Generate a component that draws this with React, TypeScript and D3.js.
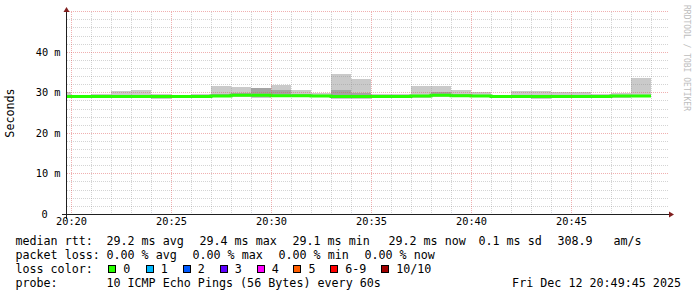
import React from 'react';
import * as d3 from 'd3';

// ---- data ----
const minutes = [
  '20:19', '20:20', '20:21', '20:22', '20:23', '20:24', '20:25', '20:26', '20:27', '20:28',
  '20:29', '20:30', '20:31', '20:32', '20:33', '20:34', '20:35', '20:36', '20:37', '20:38',
  '20:39', '20:40', '20:41', '20:42', '20:43', '20:44', '20:45', '20:46', '20:47', '20:48',
];
const medianMs = [
  29.1, 29.1, 29.1, 29.1, 29.1, 29.1, 29.1, 29.1, 29.2, 29.4,
  29.4, 29.3, 29.3, 29.2, 29.1, 29.1, 29.1, 29.1, 29.2, 29.4,
  29.3, 29.2, 29.1, 29.1, 29.1, 29.1, 29.1, 29.1, 29.2, 29.2,
];
const outerHi = [
  30.2, 29.4, 29.6, 30.4, 30.7, 29.7, 29.4, 29.7, 31.6, 31.4,
  31.3, 32.0, 30.6, 29.9, 34.6, 33.4, 29.8, 29.6, 31.6, 31.6,
  30.6, 30.1, 29.5, 30.4, 30.4, 30.1, 30.1, 29.6, 29.9, 33.7,
];
const outerLo = [
  28.8, 28.6, 28.8, 28.8, 28.8, 28.5, 28.8, 28.8, 28.9, 28.9,
  28.8, 28.9, 28.9, 28.9, 28.5, 28.5, 28.6, 28.8, 28.8, 28.9,
  28.9, 28.9, 28.9, 28.6, 28.5, 28.6, 28.8, 28.7, 28.8, 28.9,
];
const innerHi = [
  29.3, 29.2, 29.3, 29.3, 29.3, 29.2, 29.2, 29.3, 29.8, 29.9,
  31.1, 30.6, 29.7, 29.5, 30.8, 29.9, 29.3, 29.3, 29.5, 30.2,
  29.6, 29.5, 29.3, 29.5, 29.5, 29.4, 29.4, 29.3, 29.4, 29.5,
];
const innerLo = [
  28.9, 28.9, 28.9, 29.0, 29.0, 28.6, 28.9, 29.0, 29.0, 29.1,
  29.0, 29.1, 29.1, 29.1, 28.7, 28.7, 28.7, 29.0, 29.0, 29.1,
  29.1, 29.0, 29.0, 28.7, 28.8, 28.9, 29.0, 28.9, 29.0, 29.0,
];
const xTickLabels = ['20:20', '20:25', '20:30', '20:35', '20:40', '20:45'];
const yTickValues = [0, 10, 20, 30, 40];
const yTickLabels = ['0', '10 m', '20 m', '30 m', '40 m'];
const lossLabels = ['0', '1', '2', '3', '4', '5', '6-9', '10/10'];
const lossColors = ['#26ff00', '#00b8ff', '#0059ff', '#5e00ff', '#ff00fe', '#ff5e00', '#ff0000', '#a10000'];
const legendRtt = ['median rtt:', '29.2 ms avg', '29.4 ms max', '29.1 ms min', '29.2 ms now', '0.1 ms sd', '308.9', 'am/s'];
const legendLoss = ['packet loss:', '0.00 % avg', '0.00 % max', '0.00 % min', '0.00 % now'];
const legendLossColor = 'loss color:';
const legendProbe = ['probe:', '10 ICMP Echo Pings (56 Bytes) every 60s'];
const dateLabel = 'Fri Dec 12 20:49:45 2025';
const yTitle = 'Seconds';
const watermark = 'RRDTOOL / TOBI OETIKER';

// layout (pixel positions of legend columns)
const rttX = [16, 107, 200, 293, 389, 479, 558, 614];
const lossX = [16, 107, 193, 279, 365];
const probeX = [16, 107];
const lossBoxX = [108, 145.5, 182.5, 219.5, 256.5, 293.3, 330, 381];

const W = 697;
const H = 297;
const MONO = '"DejaVu Sans Mono", monospace';

const parseT = d3.timeParse('%H:%M:%S');

export default function App() {
  const start = parseT('20:19:45')!;
  const end = parseT('20:49:45')!;
  const x = d3.scaleTime().domain([start, end]).range([66, 666]);
  const y = d3.scaleLinear().domain([0, 50]).range([214.3, 11.8]);
  const plotL = 67, plotR = 666, plotT = 12, plotB = 214;

  const cols = minutes.map((m, i) => {
    const t0 = parseT(m + ':00')!;
    const t1 = d3.timeMinute.offset(t0, 1);
    return { t0, t1, i };
  });

  const medLine = d3
    .line<[number, number]>()
    .x((d) => d[0])
    .y((d) => d[1])
    .curve(d3.curveStepAfter);
  const medPts: [number, number][] = cols.map((c) => [x(c.t0), y(medianMs[c.i])]);
  medPts.push([x(cols[cols.length - 1].t1), y(medianMs[medianMs.length - 1])]);

  const minorY = d3.range(2, 50, 2).filter((v) => v % 10 !== 0);
  const majorY = [10, 20, 30, 40, 50];
  const minuteTicks = x.ticks(d3.timeMinute.every(1)!);
  const minorX = minuteTicks.filter((t) => t.getMinutes() % 5 !== 0);
  const majorX = minuteTicks.filter((t) => t.getMinutes() % 5 === 0);
  const gy = (v: number) => Math.floor(y(v)) + 0.5;
  const gx = (t: Date) => Math.round(x(t)) + 0.5;
  const fmt = d3.timeFormat('%H:%M');

  return (
    <svg
      width={W}
      height={H}
      viewBox={`0 0 ${W} ${H}`}
      style={{ position: 'absolute', left: 0, top: 0, background: '#fff' }}
    >
      <rect x={0} y={0} width={W} height={H} fill="#fff" />
      <defs>
        <clipPath id="plotclip">
          <rect x={plotL} y={plotT} width={plotR - plotL} height={plotB - plotT + 1} />
        </clipPath>
      </defs>

      <g clipPath="url(#plotclip)" shapeRendering="crispEdges">
        {cols.map((c) => (
          <rect
            key={'o' + c.i}
            x={x(c.t0)}
            width={x(c.t1) - x(c.t0)}
            y={y(outerHi[c.i])}
            height={y(outerLo[c.i]) - y(outerHi[c.i])}
            fill="#cacaca"
          />
        ))}
        {cols.map((c) => (
          <rect
            key={'i' + c.i}
            x={x(c.t0)}
            width={x(c.t1) - x(c.t0)}
            y={y(innerHi[c.i])}
            height={y(innerLo[c.i]) - y(innerHi[c.i])}
            fill="#a4a4a4"
          />
        ))}
      </g>
      <g clipPath="url(#plotclip)">
        <path d={medLine(medPts) || ''} fill="none" stroke="#26ff00" strokeWidth={3} />
      </g>

      {/* grid */}
      <g shapeRendering="crispEdges" strokeDasharray="1 1" strokeWidth={1}>
        {minorY.map((v) => (
          <line key={'my' + v} x1={plotL} x2={plotR + 2} y1={gy(v)} y2={gy(v)} stroke="rgba(143,143,143,0.38)" />
        ))}
        {minorX.map((t) => (
          <line key={'mx' + t.getTime()} x1={gx(t)} x2={gx(t)} y1={plotT} y2={plotB} stroke="rgba(143,143,143,0.38)" />
        ))}
        {majorY.map((v) => (
          <line key={'My' + v} x1={plotL} x2={plotR + 2} y1={gy(v)} y2={gy(v)} stroke="rgba(222,79,79,0.45)" />
        ))}
        {majorX.map((t) => (
          <line key={'Mx' + t.getTime()} x1={gx(t)} x2={gx(t)} y1={plotT} y2={plotB} stroke="rgba(222,79,79,0.45)" />
        ))}
      </g>

      {/* axes */}
      <g shapeRendering="crispEdges" stroke="#1f1f1f" strokeWidth={1}>
        <line x1={62} x2={670} y1={214.5} y2={214.5} />
        <line x1={66.5} x2={66.5} y1={11} y2={219} />
      </g>
      <path d="M63.5,12 L69.5,12 L66.5,7 Z" fill="#801f1f" />
      <path d="M669,211.5 L669,217.5 L674,214.5 Z" fill="#801f1f" />

      {/* tick labels */}
      <g fontFamily={MONO} fontSize={10.3} fill="#000">
        {yTickValues.map((v, i) => (
          <text key={'yl' + v} x={v === 0 ? 47.8 : 60.5} y={gy(v) + 3.7} textAnchor="end">
            {yTickLabels[i]}
          </text>
        ))}
        {majorX.filter((t) => xTickLabels.includes(fmt(t))).map((t) => (
          <text key={'xl' + t.getTime()} x={gx(t)} y={225} textAnchor="middle">
            {fmt(t)}
          </text>
        ))}
      </g>

      {/* y title */}
      <text
        transform={`translate(14,${(plotT + plotB) / 2}) rotate(-90)`}
        textAnchor="middle"
        fontFamily={MONO}
        fontSize={11.7}
        fill="#000"
      >
        {yTitle}
      </text>

      {/* watermark */}
      <text transform="translate(684,5) rotate(90)" fontFamily={MONO} fontSize={8} fill="#bdbdbd">
        {watermark}
      </text>

      {/* legend */}
      <g fontFamily={MONO} fontSize={11.7} fill="#000">
        {legendRtt.map((s, i) => (
          <text key={'r' + i} x={rttX[i] - 0.6} y={245}>{s}</text>
        ))}
        {legendLoss.map((s, i) => (
          <text key={'l' + i} x={lossX[i] - 0.6} y={259}>{s}</text>
        ))}
        <text x={15.4} y={273}>{legendLossColor}</text>
        {lossLabels.map((lab, i) => (
          <g key={'lc' + lab}>
            <rect
              x={lossBoxX[i] + 0.5}
              y={265.5}
              width={7}
              height={7}
              fill={lossColors[i]}
              stroke="#000"
              strokeWidth={1}
              shapeRendering="crispEdges"
            />
            <text x={lossBoxX[i] + 15.2} y={273}>{lab}</text>
          </g>
        ))}
        {legendProbe.map((s, i) => (
          <text key={'p' + i} x={probeX[i] - 0.6} y={287}>{s}</text>
        ))}
        <text x={681} y={287} textAnchor="end">{dateLabel}</text>
      </g>
    </svg>
  );
}
